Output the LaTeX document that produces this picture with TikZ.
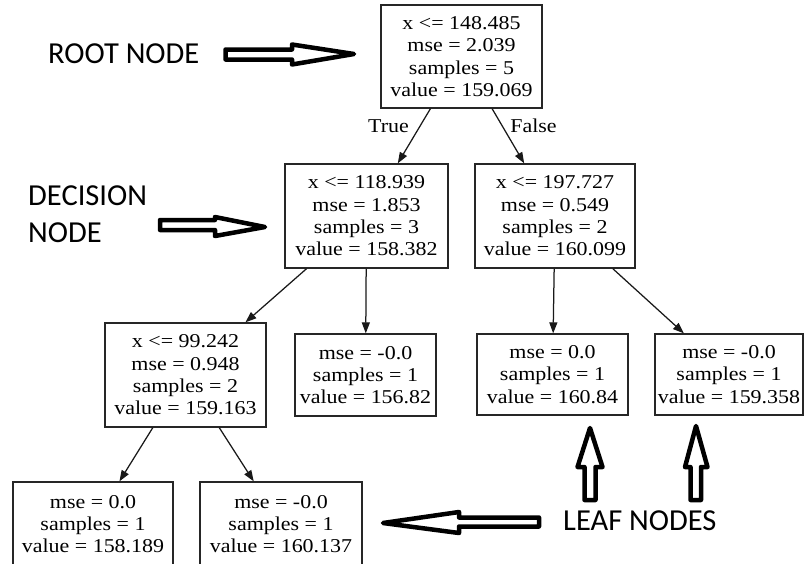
\documentclass[tikz,border=0pt]{standalone}
\usepackage{fontspec}
\setmainfont{Liberation Serif}
\newfontfamily\treefont[FakeStretch=1.12]{Liberation Serif}
\newfontfamily\notefont{Carlito}
\usetikzlibrary{arrows.meta}

\begin{document}
\begin{tikzpicture}[x=1pt,y=-1pt,
  treebox/.style={draw=black!85, line width=1.3pt, inner sep=0pt, align=center,
    font=\treefont\fontsize{19.6}{22.3}\selectfont},
  edge/.style={draw=black!90, line width=1.25pt, -{Triangle[length=11pt,width=8pt]}},
  bigarrow/.style={draw=black, line width=4.5pt, fill=white, line join=round},
  note/.style={anchor=base west, inner sep=0pt, font=\notefont\fontsize{30.5}{37}\selectfont},
  branch/.style={inner sep=0pt, font=\treefont\fontsize{19.6}{22.3}\selectfont}]

\useasboundingbox (0,0) rectangle (805,563);
\clip (0,0) rectangle (805,563);

% tree nodes
\node[treebox, minimum width=161pt, minimum height=103pt] (root) at (461.5,56.5)
  {x <= 148.485\\mse = 2.039\\samples = 5\\value = 159.069};
\node[treebox, minimum width=163pt, minimum height=104pt] (dl) at (366.5,216)
  {x <= 118.939\\mse = 1.853\\samples = 3\\value = 158.382};
\node[treebox, minimum width=160pt, minimum height=104pt] (dr) at (555,216)
  {x <= 197.727\\mse = 0.549\\samples = 2\\value = 160.099};
\node[treebox, minimum width=161pt, minimum height=104pt] (la) at (185.5,375)
  {x <= 99.242\\mse = 0.948\\samples = 2\\value = 159.163};
\node[treebox, minimum width=141pt, minimum height=82pt] (lb) at (365.5,375)
  {mse = -0.0\\samples = 1\\value = 156.82};
\node[treebox, minimum width=151pt, minimum height=81pt] (lc) at (552.5,374.5)
  {mse = 0.0\\samples = 1\\value = 160.84};
\node[treebox, minimum width=148pt, minimum height=81pt] (ld) at (729,374.5)
  {mse = -0.0\\samples = 1\\value = 159.358};
\node[treebox, minimum width=160pt, minimum height=84pt] (ba) at (93,524)
  {mse = 0.0\\samples = 1\\value = 158.189};
\node[treebox, minimum width=162pt, minimum height=84pt] (bb) at (281,524)
  {mse = -0.0\\samples = 1\\value = 160.137};

% tree edges
\draw[edge] (root) -- (dl);
\draw[edge] (root) -- (dr);
\draw[edge] (dl) -- (la);
\draw[edge] (dl) -- (lb);
\draw[edge] (dr) -- (lc);
\draw[edge] (dr) -- (ld);
\draw[edge] (la) -- (ba);
\draw[edge] (la) -- (bb);

\node[branch] (ltrue) at (388.5,126) {True};
\node[branch] (lfalse) at (533.5,126) {False};

% annotations
\node[note] (rootlabel) at (48,63) {ROOT NODE};
\node[note] (declabel1) at (28,205) {DECISION};
\node[note] (declabel2) at (28,242) {NODE};
\node[note] (leaflabel) at (563,530) {LEAF NODES};

% hollow pointer arrows
\draw[bigarrow] (225.5,49.5) -- (292,49.5) -- (292,44.5) -- (354,54) -- (292,64.5)
  -- (292,59.5) -- (225.5,59.5) -- cycle;
\draw[bigarrow] (160,220) -- (215,220) -- (215,217) -- (265,227) -- (215,236)
  -- (215,230) -- (160,230) -- cycle;
\draw[bigarrow] (539,517.5) -- (459,517.5) -- (459,512) -- (383,523) -- (459,533)
  -- (459,526.5) -- (539,526.5) -- cycle;
\draw[bigarrow] (584.5,500) -- (584.5,467) -- (577.5,467) -- (590,428) -- (602.5,467)
  -- (595.5,467) -- (595.5,500) -- cycle;
\draw[bigarrow] (690.5,500) -- (690.5,467) -- (685,467) -- (696,426) -- (707.5,467)
  -- (701,467) -- (701,500) -- cycle;

\end{tikzpicture}
\end{document}
